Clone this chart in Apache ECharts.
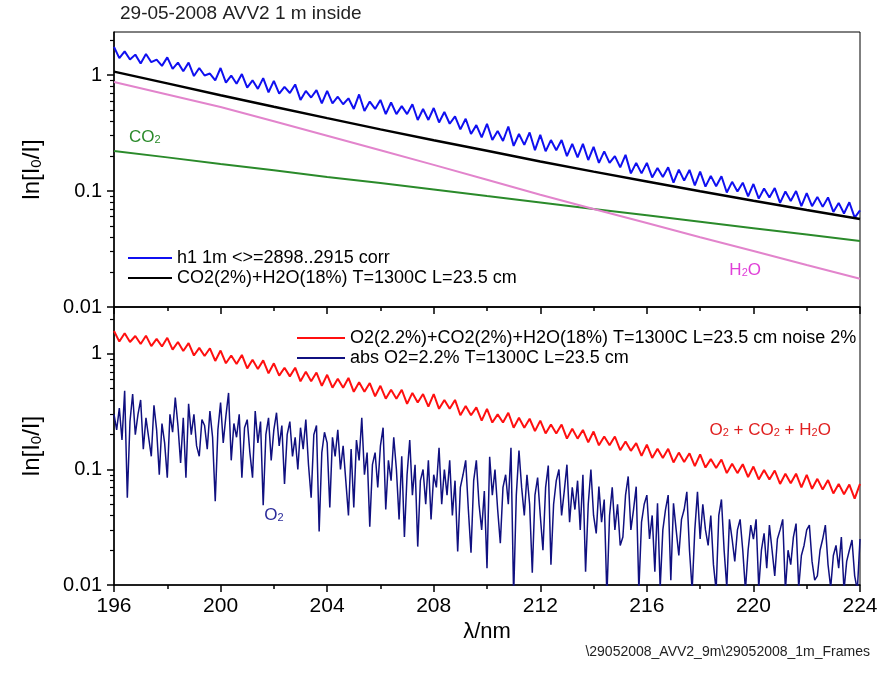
<!DOCTYPE html>
<html><head><meta charset="utf-8">
<script src="https://cdn.jsdelivr.net/npm/echarts@6/dist/echarts.min.js"></script>
<style>html,body{margin:0;padding:0;background:#fff}#c{width:882px;height:674px}</style>
</head><body><div id="c"></div>
<script>
// ---- data ----
const lambdaStart = 196;
const measuredStep = 0.2;   // nm between samples of the measured / noisy series
const o2Step = 0.1;         // nm between samples of the O2 absorption series
const modelStep = 2;        // nm between samples of the smooth model curves

const yLabelValues = [0.01, 0.1, 1];
const yMinorTicks = [0.02,0.03,0.04,0.05,0.06,0.07,0.08,0.09,0.2,0.3,0.4,0.5,0.6,0.7,0.8,0.9,2];

const nameMeasured = 'h1 1m <>=2898..2915 corr';
const nameModel = 'CO2(2%)+H2O(18%) T=1300C L=23.5 cm';
const nameNoisy = 'O2(2.2%)+CO2(2%)+H2O(18%) T=1300C L=23.5 cm noise 2%';
const nameO2 = 'abs O2=2.2% T=1300C L=23.5 cm';

// measured h1 1m (blue), 196..224 nm every 0.2 nm
const measured = [
 1.75,1.40,1.60,1.36,1.50,1.26,1.52,1.29,1.36,1.20,
 1.42,1.13,1.28,1.08,1.28,0.98,1.15,0.99,1.03,0.90,
 1.15,0.86,0.99,0.84,1.02,0.78,0.90,0.76,0.94,0.71,
 0.89,0.69,0.79,0.70,0.83,0.61,0.73,0.64,0.74,0.57,
 0.73,0.57,0.65,0.56,0.63,0.51,0.68,0.49,0.59,0.51,
 0.61,0.46,0.58,0.46,0.54,0.46,0.56,0.41,0.51,0.41,
 0.52,0.39,0.48,0.38,0.44,0.34,0.42,0.31,0.37,0.29,
 0.38,0.275,0.33,0.27,0.36,0.245,0.31,0.25,0.32,0.225,
 0.305,0.22,0.275,0.225,0.275,0.20,0.255,0.195,0.255,0.185,
 0.24,0.175,0.22,0.175,0.20,0.16,0.205,0.142,0.175,0.142,
 0.175,0.131,0.158,0.132,0.16,0.118,0.153,0.123,0.152,0.112,
 0.147,0.109,0.135,0.11,0.134,0.097,0.12,0.099,0.118,0.09,
 0.115,0.086,0.105,0.088,0.106,0.079,0.099,0.082,0.1,0.074,
 0.096,0.074,0.089,0.073,0.088,0.066,0.079,0.064,0.08,0.059,
 0.068
];
// smooth model curves, 196..224 nm every 2 nm
const modelCO2H2O = [1.07,0.847,0.670,0.532,0.425,0.340,0.274,0.222,0.180,0.147,0.121,0.0995,0.0824,0.0686,0.0573];
const h2oOnly = [0.87,0.68,0.53,0.40,0.30,0.225,0.168,0.125,0.093,0.070,0.053,0.040,0.0304,0.023,0.0175];
const co2Only = [0.221,0.195,0.171,0.151,0.132,0.117,0.103,0.0904,0.0796,0.070,0.0617,0.0543,0.0478,0.0421,0.037];

// O2+CO2+H2O with 2% noise (red), 196..224 nm every 0.2 nm
const noisySum = [
 1.58,1.28,1.51,1.27,1.43,1.22,1.44,1.17,1.35,1.16,
 1.38,1.09,1.27,1.06,1.24,0.97,1.13,0.96,1.12,0.87,
 1.07,0.83,0.97,0.82,0.98,0.75,0.89,0.74,0.88,0.68,
 0.83,0.65,0.76,0.64,0.76,0.58,0.70,0.58,0.69,0.53,
 0.66,0.51,0.61,0.51,0.62,0.47,0.57,0.47,0.56,0.43,
 0.53,0.41,0.49,0.41,0.49,0.37,0.46,0.38,0.45,0.35,
 0.45,0.335,0.40,0.335,0.40,0.295,0.355,0.295,0.345,0.265,
 0.335,0.255,0.30,0.255,0.31,0.23,0.28,0.23,0.275,0.215,
 0.265,0.205,0.245,0.205,0.245,0.185,0.225,0.185,0.22,0.172,
 0.213,0.162,0.193,0.162,0.193,0.147,0.175,0.145,0.169,0.131,
 0.164,0.126,0.151,0.126,0.151,0.115,0.14,0.116,0.138,0.107,
 0.135,0.104,0.123,0.103,0.122,0.093,0.112,0.093,0.111,0.086,
 0.106,0.082,0.099,0.082,0.098,0.075,0.092,0.076,0.092,0.07,
 0.09,0.068,0.083,0.067,0.081,0.062,0.075,0.061,0.074,0.056,
 0.075
];
// abs O2 (navy), 196..224 nm every 0.1 nm
const o2Abs = [
 0.30,0.22,0.34,0.18,0.48,0.057,0.26,0.45,0.20,0.30,
 0.40,0.15,0.28,0.19,0.13,0.36,0.22,0.09,0.25,0.17,
 0.085,0.30,0.21,0.42,0.24,0.114,0.28,0.085,0.37,0.20,
 0.30,0.16,0.13,0.27,0.24,0.15,0.32,0.19,0.053,0.22,
 0.38,0.17,0.29,0.46,0.12,0.25,0.19,0.30,0.085,0.23,
 0.27,0.14,0.085,0.32,0.17,0.26,0.049,0.20,0.28,0.12,
 0.22,0.31,0.16,0.24,0.075,0.20,0.26,0.13,0.19,0.10,
 0.23,0.15,0.27,0.11,0.057,0.20,0.24,0.029,0.14,0.21,
 0.17,0.047,0.19,0.13,0.22,0.10,0.16,0.08,0.040,0.15,
 0.047,0.18,0.12,0.28,0.09,0.14,0.032,0.11,0.14,0.07,
 0.16,0.23,0.045,0.12,0.08,0.19,0.10,0.037,0.13,0.026,
 0.09,0.18,0.06,0.11,0.0215,0.08,0.10,0.05,0.12,0.037,
 0.09,0.07,0.154,0.05,0.10,0.06,0.12,0.04,0.08,0.0195,
 0.07,0.09,0.12,0.045,0.019,0.08,0.12,0.05,0.03,0.065,
 0.014,0.129,0.06,0.10,0.045,0.023,0.07,0.09,0.05,0.154,
 0.008,0.06,0.146,0.07,0.04,0.09,0.05,0.0128,0.06,0.085,
 0.04,0.02,0.07,0.108,0.015,0.05,0.08,0.10,0.04,0.065,
 0.11,0.035,0.07,0.045,0.08,0.03,0.09,0.013,0.05,0.10,
 0.04,0.028,0.071,0.035,0.055,0.008,0.04,0.07,0.03,0.05,
 0.022,0.026,0.06,0.087,0.03,0.045,0.071,0.009,0.035,0.05,
 0.06,0.025,0.04,0.013,0.051,0.0095,0.03,0.045,0.06,0.011,
 0.051,0.03,0.018,0.037,0.045,0.064,0.02,0.009,0.03,0.064,
 0.025,0.05,0.03,0.022,0.04,0.015,0.009,0.04,0.055,0.02,
 0.0095,0.037,0.025,0.016,0.03,0.037,0.02,0.009,0.02,0.033,
 0.025,0.037,0.0095,0.02,0.028,0.014,0.033,0.02,0.012,0.025,
 0.03,0.037,0.009,0.02,0.015,0.026,0.034,0.0095,0.018,0.022,
 0.03,0.033,0.016,0.011,0.012,0.02,0.025,0.033,0.015,0.0095,
 0.018,0.022,0.014,0.026,0.009,0.016,0.02,0.0245,0.012,0.009,
 0.025
];

// annotation texts and their anchor points [lambda, value]
const annCO2 = {text: 'CO{s|2}', at: [197.16, 0.292]};
const annH2O = {text: 'H{s|2}O', at: [219.69, 0.0207]};
const annO2 = {text: 'O{s|2}', at: [202.0, 0.0405]};
const annSum = {text: 'O{s|2} + CO{s|2} + H{s|2}O', at: [220.63, 0.22]};

// ---- chart ----
const FONT = '"Liberation Sans", Arial, sans-serif';
function pairs(vals, step) { return vals.map((v, i) => [+(lambdaStart + i * step).toFixed(2), v]); }
function ann(a, color) {
  return {
    symbol: 'circle', symbolSize: 1, silent: true,
    itemStyle: {color: 'transparent'},
    label: {show: true, position: 'inside', formatter: a.text, color: color, fontSize: 17, fontFamily: FONT,
      rich: {s: {fontSize: 11, color: color, fontFamily: FONT, verticalAlign: 'bottom', lineHeight: 11}}},
    data: [{coord: a.at}]
  };
}
const subRich = {s: {fontSize: 15, fontFamily: FONT, color: '#000', verticalAlign: 'bottom', lineHeight: 15}};

function xAx(gi, labels) {
  return {
    gridIndex: gi, type: 'value', min: 196, max: 224, interval: 4,
    axisLine: {show: true, onZero: false, lineStyle: {color: '#000', width: 1.5}},
    axisTick: {show: true, inside: false, length: 7, lineStyle: {color: '#000', width: 1.5}},
    minorTick: {show: true, splitNumber: 2, length: 4, lineStyle: {color: '#000', width: 1.5}},
    splitLine: {show: false},
    axisLabel: {show: labels, fontSize: 21, color: '#000', fontFamily: FONT, margin: 11},
    name: labels ? 'λ/nm' : '', nameLocation: 'middle', nameGap: 36,
    nameTextStyle: {fontSize: 22, color: '#000', fontFamily: FONT}
  };
}
function yAx(gi, max) {
  return {
    gridIndex: gi, type: 'log', logBase: 10, min: 0.01, max: max, position: 'left',
    axisLine: {show: true, lineStyle: {color: '#000', width: 1.5}},
    axisTick: {show: true, inside: false, length: 7, customValues: yLabelValues, lineStyle: {color: '#000', width: 1.5}},
    axisLabel: {customValues: yLabelValues, fontSize: 20, color: '#000', fontFamily: FONT, margin: 12},
    splitLine: {show: false},
    name: 'ln[I{s|0}/I]', nameLocation: 'middle', nameGap: 70, nameRotate: 90,
    nameTextStyle: {fontSize: 24, color: '#000', fontFamily: FONT, rich: subRich}
  };
}
function yMinor(gi, max) {
  return {
    gridIndex: gi, type: 'log', logBase: 10, min: 0.01, max: max, position: 'left', offset: 0,
    axisLine: {show: false},
    axisTick: {show: true, inside: false, length: 4, customValues: yMinorTicks, lineStyle: {color: '#000', width: 1.2}},
    axisLabel: {show: false}, splitLine: {show: false}
  };
}

const chart = echarts.init(document.getElementById('c'));
chart.setOption({
  animation: false,
  backgroundColor: '#fff',
  title: [
    {text: '29-05-2008 AVV2 1 m inside', left: 120, top: 4, padding: 0,
     textStyle: {fontSize: 19, fontWeight: 'normal', color: '#222', fontFamily: FONT}},
    {text: '\\29052008_AVV2_9m\\29052008_1m_Frames', right: 12, top: 645, padding: 0,
     textStyle: {fontSize: 14, fontWeight: 'normal', color: '#222', fontFamily: FONT}}
  ],
  grid: [
    {left: 114, right: 22, top: 32, height: 275, show: true, borderColor: '#000', borderWidth: 1, containLabel: false},
    {left: 114, right: 22, top: 307, height: 278, show: true, borderColor: '#000', borderWidth: 1, containLabel: false}
  ],
  legend: [
    {data: [nameMeasured, nameModel], left: 128, top: 249, orient: 'vertical', padding: 0,
     icon: 'rect', itemWidth: 44, itemHeight: 2, itemGap: 2,
     textStyle: {fontSize: 18, color: '#000', fontFamily: FONT, lineHeight: 18, padding: [0, 0, 0, 0]}},
    {data: [nameNoisy, nameO2], left: 297, top: 329, orient: 'vertical', padding: 0,
     icon: 'rect', itemWidth: 48, itemHeight: 2, itemGap: 2,
     textStyle: {fontSize: 18, color: '#000', fontFamily: FONT, lineHeight: 18}}
  ],
  xAxis: [xAx(0, false), xAx(1, true)],
  yAxis: [yAx(0, 2.35), yAx(1, 2.55), yMinor(0, 2.35), yMinor(1, 2.55)],
  series: [
    {name: 'CO2', type: 'line', xAxisIndex: 0, yAxisIndex: 0, symbol: 'none', data: pairs(co2Only, modelStep),
     lineStyle: {color: '#2a8a2a', width: 2}, itemStyle: {color: '#2a8a2a'}, markPoint: ann(annCO2, '#2a8a2a')},
    {name: 'H2O', type: 'line', xAxisIndex: 0, yAxisIndex: 0, symbol: 'none', data: pairs(h2oOnly, modelStep),
     lineStyle: {color: '#e284cc', width: 2}, itemStyle: {color: '#e284cc'}, markPoint: ann(annH2O, '#e040d8')},
    {name: nameMeasured, type: 'line', xAxisIndex: 0, yAxisIndex: 0, symbol: 'none', data: pairs(measured, measuredStep),
     lineStyle: {color: '#1010f0', width: 2}, itemStyle: {color: '#1010f0'}},
    {name: nameModel, type: 'line', xAxisIndex: 0, yAxisIndex: 0, symbol: 'none', data: pairs(modelCO2H2O, modelStep),
     lineStyle: {color: '#000', width: 2.5}, itemStyle: {color: '#000'}},
    {name: nameNoisy, type: 'line', xAxisIndex: 1, yAxisIndex: 1, symbol: 'none', data: pairs(noisySum, measuredStep),
     lineStyle: {color: '#ff1010', width: 2}, itemStyle: {color: '#ff1010'}, markPoint: ann(annSum, '#e02020')},
    {name: nameO2, type: 'line', xAxisIndex: 1, yAxisIndex: 1, symbol: 'none', data: pairs(o2Abs, o2Step), clip: true,
     lineStyle: {color: '#101080', width: 1.5}, itemStyle: {color: '#101080'}, markPoint: ann(annO2, '#2b2b9a')}
  ]
});
</script>
</body></html>
